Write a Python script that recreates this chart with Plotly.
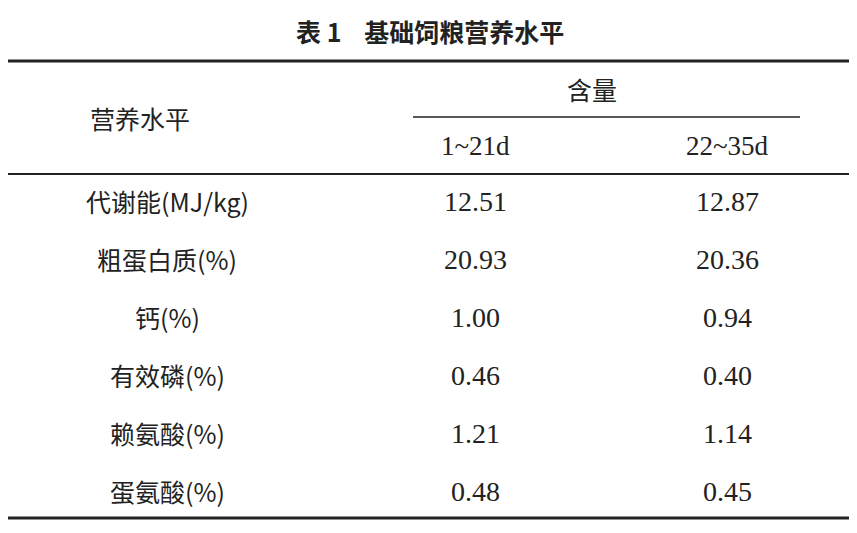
import plotly.graph_objects as go

title = "表 1    基础饲粮营养水平"
row_labels = ["代谢能(MJ/kg)", "粗蛋白质(%)", "钙(%)", "有效磷(%)", "赖氨酸(%)", "蛋氨酸(%)"]
col_group = "含量"
col_labels = ["1~21d", "22~35d"]
header_label = "营养水平"
values_1_21 = ["12.51", "20.93", "1.00", "0.46", "1.21", "0.48"]
values_22_35 = ["12.87", "20.36", "0.94", "0.40", "1.14", "0.45"]

W, H = 841, 517
OFF = 8
cjk = "Noto Sans CJK SC"
serif = "Liberation Serif"
fig = go.Figure()
fig.add_trace(go.Scatter(x=[0, W], y=[0, H], mode="markers", marker=dict(opacity=0), hoverinfo="skip"))

def txt(x, y, s, font=cjk, size=25, bold=False):
    fig.add_annotation(x=x - OFF, y=y - OFF, text=f"<b>{s}</b>" if bold else s, showarrow=False,
                       xanchor="center", yanchor="middle",
                       font=dict(family=font, size=size, color="#222"))

def line(x0, x1, y, w):
    fig.add_shape(type="line", x0=x0 - OFF, x1=x1 - OFF, y0=y - OFF, y1=y - OFF,
                  line=dict(color="#222", width=w))

txt(430, 31, title, size=25, bold=True)
line(8, 850, 61, 3)
txt(140, 118, header_label)
txt(592, 89, col_group)
line(413, 800, 117, 1.5)
txt(475, 146, col_labels[0], font=serif, size=27)
txt(727, 146, col_labels[1], font=serif, size=27)
line(8, 850, 174, 2)
ys = [201, 259, 317, 375, 433, 491]
for i, y in enumerate(ys):
    txt(167, y, row_labels[i])
    txt(475, y, values_1_21[i], font=serif, size=28)
    txt(727, y, values_22_35[i], font=serif, size=28)
line(8, 850, 518, 3)

fig.update_layout(width=W, height=H, margin=dict(l=0, r=0, t=0, b=0),
                  paper_bgcolor="white", plot_bgcolor="white", showlegend=False,
                  xaxis=dict(range=[0, W], visible=False, fixedrange=True),
                  yaxis=dict(range=[H, 0], visible=False, fixedrange=True))
fig.write_html("out.html")
